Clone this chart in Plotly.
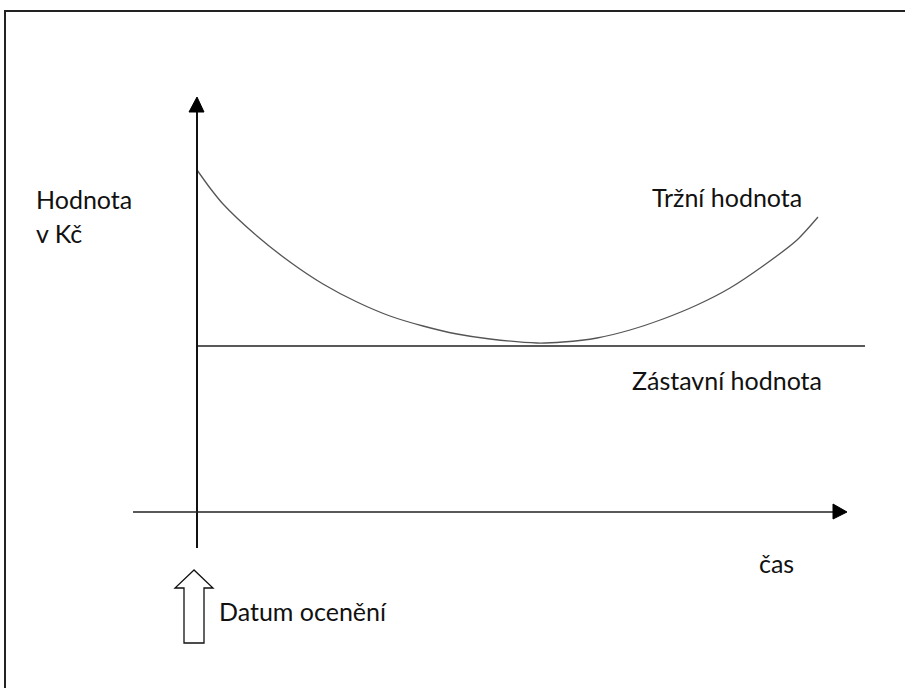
import plotly.graph_objects as go

# ---- data (time units, value units; origin where axes cross) ----
trzni_t = [0, 1.3, 2.6, 6.0, 9.3, 12.6, 16.0, 19.3, 22.6, 26.0, 29.3, 34.0, 36.6, 40.0, 43.3, 46.6, 50.0, 53.3, 56.6, 60.0, 62.1]
trzni_v = [34.2, 32.4, 30.8, 27.6, 25.0, 22.8, 21.0, 19.6, 18.6, 17.8, 17.3, 16.9, 17.0, 17.4, 18.2, 19.3, 20.7, 22.4, 24.6, 27.2, 29.5]
zastavni_t = [0, 66.8]
zastavni_v = [16.6, 16.6]

label_trzni = "Tržní hodnota"
label_zastavni = "Zástavní hodnota"
label_y1 = "Hodnota"
label_y2 = "v Kč"
label_x = "čas"
label_datum = "Datum ocenění"

# axis extents
X_MIN, X_MAX = -19.7, 70.8
Y_MIN, Y_MAX = -17.6, 51.2

FONT = "Lato"
FS = 25
TXT = "#111111"

fig = go.Figure()
fig.add_trace(go.Scatter(x=trzni_t, y=trzni_v, mode="lines",
                         line=dict(color="#555555", width=1.3, shape="spline", smoothing=0.7), hoverinfo="skip"))
fig.add_trace(go.Scatter(x=zastavni_t, y=zastavni_v, mode="lines",
                         line=dict(color="#222222", width=1.5), hoverinfo="skip"))

shapes = []
# y axis line
shapes.append(dict(type="line", x0=0, x1=0, y0=-3.6, y1=40.2, line=dict(color="#111", width=2)))
# y arrow head
shapes.append(dict(type="path", path="M -0.8 40.0 L 0 41.5 L 0.7 40.0 Z", fillcolor="#000", line=dict(color="#000", width=1)))
# x axis line
shapes.append(dict(type="line", x0=-6.4, x1=63.8, y0=0, y1=0, line=dict(color="#222", width=1.5)))
# x arrow head
shapes.append(dict(type="path", path="M 63.6 0.8 L 65.0 0 L 63.6 -0.7 Z", fillcolor="#000", line=dict(color="#000", width=1)))
# hollow arrow (Datum ocenění)
shapes.append(dict(type="path",
                   path="M -0.3 -5.8 L -2.2 -7.6 L -1.3 -7.6 L -1.3 -13.1 L 0.7 -13.1 L 0.7 -7.6 L 1.6 -7.6 Z",
                   fillcolor="white", line=dict(color="#111", width=1.3)))
# frame: left and top edges
FRAME_L = 5 / 905
FRAME_T = 1 - 11 / 688
shapes.append(dict(type="line", xref="paper", yref="paper", x0=FRAME_L, x1=FRAME_L, y0=0, y1=FRAME_T + 0.0015,
                   line=dict(color="#222", width=2)))
shapes.append(dict(type="line", xref="paper", yref="paper", x0=FRAME_L, x1=1.2, y0=FRAME_T, y1=FRAME_T,
                   line=dict(color="#222", width=2)))

ann = [
    dict(x=-16.3, y=31.3, text=label_y1),
    dict(x=-16.3, y=27.9, text=label_y2),
    dict(x=45.3, y=31.55, text=label_trzni),
    dict(x=43.3, y=13.25, text=label_zastavni),
    dict(x=56.0, y=-5.05, text=label_x),
    dict(x=2.0, y=-9.9, text=label_datum),
]
for a in ann:
    a.update(showarrow=False, xanchor="left", yanchor="middle",
             font=dict(family=FONT, size=FS, color=TXT), xref="x", yref="y")

fig.update_layout(
    width=905, height=688,
    margin=dict(l=0, r=0, t=0, b=0),
    paper_bgcolor="white", plot_bgcolor="white",
    showlegend=False,
    xaxis=dict(range=[X_MIN, X_MAX], visible=False, fixedrange=True),
    yaxis=dict(range=[Y_MIN, Y_MAX], visible=False, fixedrange=True),
    shapes=shapes, annotations=ann,
)
fig.write_html("out.html", config={"displayModeBar": False},
               post_script="document.body.style.margin='0';document.body.style.overflow='hidden';"
                           "document.documentElement.style.overflow='hidden';")
